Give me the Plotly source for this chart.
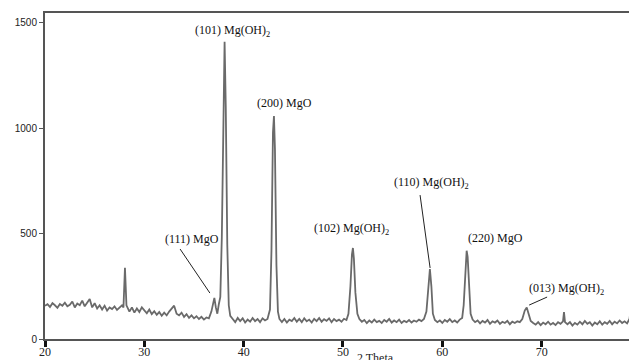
import plotly.graph_objects as go

two_theta = [
    20.0, 20.25, 20.5, 20.75, 21.0, 21.25, 21.5, 21.75, 22.0, 22.25, 22.5, 22.75, 23.0, 23.25, 23.5, 23.75,
    24.0, 24.25, 24.5, 24.75, 25.0, 25.25, 25.5, 25.75, 26.0, 26.25, 26.5, 26.75, 27.0, 27.25, 27.5, 27.75,
    27.9, 28.05, 28.2,
    28.5, 28.75, 29.0, 29.25, 29.5, 29.75, 30.0, 30.25, 30.5, 30.75, 31.0, 31.25, 31.5, 31.75, 32.0, 32.25,
    32.5, 32.75, 33.0, 33.25, 33.5, 33.75, 34.0, 34.25, 34.5, 34.75, 35.0, 35.25, 35.5, 35.75, 36.0, 36.25,
    36.5, 36.75, 36.9, 37.05, 37.2, 37.35, 37.5, 37.65, 37.8, 37.95, 38.08, 38.2, 38.35, 38.5, 38.65,
    38.9, 39.15, 39.4, 39.65, 39.9, 40.15, 40.4, 40.65, 40.9, 41.15, 41.4, 41.65, 41.9, 42.15, 42.4,
    42.65, 42.8, 42.95, 43.05, 43.15, 43.3, 43.45, 43.6,
    43.85, 44.1, 44.35, 44.6, 44.85, 45.1, 45.35, 45.6, 45.85, 46.1, 46.35, 46.6, 46.85, 47.1, 47.35, 47.6,
    47.85, 48.1, 48.35, 48.6, 48.85, 49.1, 49.35, 49.6, 49.85, 50.1, 50.35, 50.55, 50.75, 50.9, 51.0, 51.1,
    51.25, 51.45, 51.65,
    51.9, 52.15, 52.4, 52.65, 52.9, 53.15, 53.4, 53.65, 53.9, 54.15, 54.4, 54.65, 54.9, 55.15, 55.4, 55.65,
    55.9, 56.15, 56.4, 56.65, 56.9, 57.15, 57.4, 57.65, 57.9, 58.15, 58.4, 58.6, 58.75, 58.9, 59.05, 59.25,
    59.5, 59.75, 60.0, 60.25, 60.5, 60.75, 61.0, 61.25, 61.5, 61.75, 62.0, 62.15, 62.3, 62.45, 62.55, 62.7,
    62.85, 63.05,
    63.3, 63.55, 63.8, 64.05, 64.3, 64.55, 64.8, 65.05, 65.3, 65.55, 65.8, 66.05, 66.3, 66.55, 66.8, 67.05,
    67.3, 67.55, 67.8, 68.05, 68.3, 68.5, 68.7, 68.9,
    69.15, 69.4, 69.65, 69.9, 70.15, 70.4, 70.65, 70.9, 71.15, 71.4, 71.65, 71.9, 72.15, 72.25, 72.35, 72.6,
    72.85, 73.1, 73.35, 73.6, 73.85, 74.1, 74.35, 74.6, 74.85, 75.1, 75.35, 75.6, 75.85, 76.1, 76.35, 76.6,
    76.85, 77.1, 77.35, 77.6, 77.85, 78.1, 78.35, 78.6, 78.85, 78.95, 79.05, 79.3, 79.6,
]
intensity = [
    158, 165, 152, 170, 160, 148, 166, 158, 172, 155, 162, 178, 150, 168, 160, 182,
    155, 175, 190, 150, 170, 145, 160, 140, 158, 135, 150, 142, 155, 138, 148, 160,
    150, 338, 160,
    130, 150, 125, 145, 128, 150, 135, 122, 140, 118, 132, 115, 128, 110, 125, 112,
    130, 145, 158, 120, 112, 125, 105, 118, 100, 112, 98, 108, 95, 105, 92, 102,
    98, 130, 165, 195, 150, 120, 165, 200, 480, 1150, 1410, 1100, 450, 160, 110,
    95, 80, 100, 85, 98, 78, 92, 82, 100, 85, 95, 80, 98, 88, 95,
    140, 420, 980, 1058, 900, 350, 130, 95,
    80, 95, 78, 92, 85, 100, 82, 95, 80, 98, 84, 92, 78, 96, 85, 100,
    82, 94, 86, 98, 80, 95, 85, 92, 82, 96, 90, 120, 250, 400, 432, 380,
    220, 120, 95,
    82, 90, 75, 88, 78, 92, 80, 86, 76, 90, 82, 95, 78, 88, 80, 92,
    76, 86, 80, 90, 78, 88, 82, 92, 85, 95, 130, 260, 332, 250, 120, 90,
    80, 88, 76, 90, 82, 94, 80, 88, 78, 92, 100, 160, 330, 419, 390, 220,
    120, 92,
    80, 88, 74, 86, 78, 90, 72, 84, 78, 88, 72, 82, 76, 86, 70, 82,
    76, 84, 80, 95, 135, 150, 118, 86,
    76, 68, 80, 66, 78, 70, 82, 68, 76, 66, 80, 72, 84, 128, 80, 70,
    80, 64, 76, 68, 82, 70, 86, 72, 80, 64, 78, 70, 84, 68, 80, 72,
    86, 70, 82, 74, 88, 76, 84, 74, 96, 137, 88, 78, 86,
]

x_ticks = [20, 30, 40, 50, 60, 70, 80]
y_ticks = [0, 500, 1000, 1500]

# peak labels: text, label anchor (2theta, counts)
label_text = ["(101) Mg(OH)<sub>2</sub>", "(200) MgO", "(111) MgO", "(102) Mg(OH)<sub>2</sub>",
              "(110) Mg(OH)<sub>2</sub>", "(220) MgO", "(013) Mg(OH)<sub>2</sub>"]
label_x = [34.9, 41.15, 31.88, 46.9, 54.94, 62.4, 68.54]
label_y = [1460, 1120, 475, 520, 738, 479, 235]

# leader lines: (x0, y0, x1, y1)
leader_x0 = [33.6, 57.76, 68.74]
leader_y0 = [427, 683, 161]
leader_x1 = [36.6, 58.77, 70.55]
leader_y1 = [218, 337, 199]

fig = go.Figure()
fig.add_trace(go.Scatter(x=two_theta, y=intensity, mode="lines",
                         line=dict(color="#6a6a6a", width=1.8), showlegend=False,
                         hoverinfo="skip"))

for t, lx, ly in zip(label_text, label_x, label_y):
    fig.add_annotation(x=lx, y=ly, xref="x", yref="y", text=t, showarrow=False,
                       xanchor="left", yanchor="middle",
                       font=dict(family="Liberation Serif", size=12, color="#111"))

for x0, y0, x1, y1 in zip(leader_x0, leader_y0, leader_x1, leader_y1):
    fig.add_shape(type="line", x0=x0, y0=y0, x1=x1, y1=y1, xref="x", yref="y",
                  line=dict(color="#222", width=1))

fig.add_annotation(x=(375 - 45) / 592, y=-0.058, xref="paper", yref="paper",
                   text="2 Theta", showarrow=False, xanchor="center", yanchor="middle",
                   font=dict(family="Liberation Serif", size=12, color="#222"))

# page body has an 8px default margin, so the figure is sized/offset to compensate
fig.update_layout(
    width=629, height=352,
    margin=dict(l=37, r=0, t=5, b=21, autoexpand=False),
    paper_bgcolor="white", plot_bgcolor="white",
    xaxis=dict(range=[20, 79.6], tickvals=x_ticks, ticks="outside", ticklen=6, tickwidth=3,
               tickcolor="#111", showline=True, linecolor="#555", linewidth=2, mirror=True,
               showgrid=False, zeroline=False, automargin=False, ticklabelstandoff=-5,
               tickfont=dict(family="Liberation Serif", size=12, color="#222")),
    yaxis=dict(range=[0, 1547], tickvals=y_ticks, ticks="outside", ticklen=4, tickwidth=1,
               tickcolor="#555", showline=True, linecolor="#555", linewidth=2,
               showgrid=False, zeroline=False, automargin=False,
               tickfont=dict(family="Liberation Sans", size=10, color="#222")),
)

fig.write_html("out.html")
